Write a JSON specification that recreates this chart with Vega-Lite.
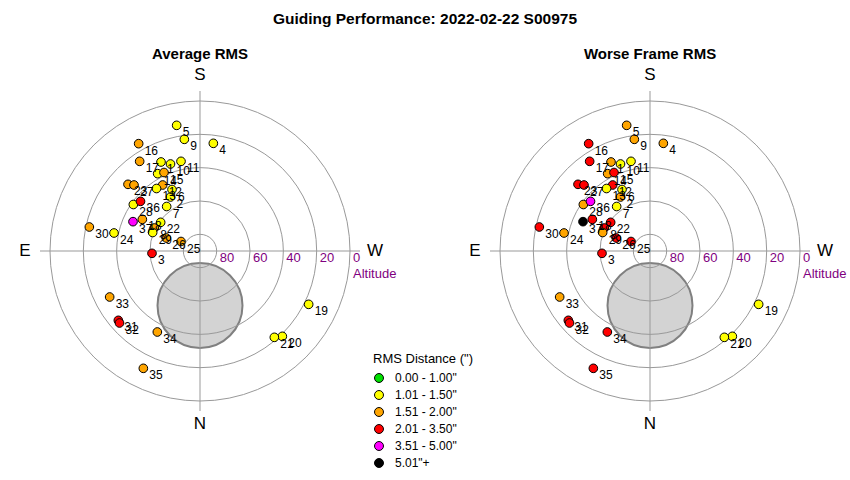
{
  "$schema": "https://vega.github.io/schema/vega-lite/v6.json",
  "padding": {"left": 0, "right": 0, "top": 11, "bottom": 0},
  "config": {"font": "Liberation Sans", "view": {"stroke": null}, "title": {"fontSize": 15, "fontWeight": "bold", "color": "black"}},
  "title": {"text": "Guiding Performance: 2022-02-22 S00975", "anchor": "start", "align": "center", "dx": 425, "fontSize": 15.5, "offset": 20},
  "datasets": {
    "pts": [
      {"label": "1", "x": -23.4, "y": 53.4, "avg": "1.01 - 1.50\"", "worst": "1.51 - 2.00\""},
      {"label": "2", "x": -17.7, "y": 32.4, "avg": "1.01 - 1.50\"", "worst": "1.51 - 2.00\""},
      {"label": "3", "x": -28.8, "y": -1.4, "avg": "2.01 - 3.50\"", "worst": "2.01 - 3.50\""},
      {"label": "4", "x": 8.0, "y": 64.6, "avg": "1.01 - 1.50\"", "worst": "1.51 - 2.00\""},
      {"label": "5", "x": -14.0, "y": 75.4, "avg": "1.01 - 1.50\"", "worst": "1.51 - 2.00\""},
      {"label": "6", "x": -16.8, "y": 36.9, "avg": "1.01 - 1.50\"", "worst": "1.01 - 1.50\""},
      {"label": "7", "x": -20.0, "y": 26.7, "avg": "1.01 - 1.50\"", "worst": "1.01 - 1.50\""},
      {"label": "8", "x": -27.4, "y": 13.8, "avg": "1.51 - 2.00\"", "worst": "2.01 - 3.50\""},
      {"label": "9", "x": -9.4, "y": 67.0, "avg": "1.01 - 1.50\"", "worst": "1.51 - 2.00\""},
      {"label": "10", "x": -17.7, "y": 52.2, "avg": "1.01 - 1.50\"", "worst": "1.01 - 1.50\""},
      {"label": "11", "x": -11.4, "y": 53.8, "avg": "1.01 - 1.50\"", "worst": "1.01 - 1.50\""},
      {"label": "12", "x": -22.4, "y": 39.6, "avg": "1.51 - 2.00\"", "worst": "2.01 - 3.50\""},
      {"label": "13", "x": -26.1, "y": 37.5, "avg": "1.01 - 1.50\"", "worst": "1.01 - 1.50\""},
      {"label": "14", "x": -25.4, "y": 46.4, "avg": "1.01 - 1.50\"", "worst": "1.51 - 2.00\""},
      {"label": "15", "x": -21.6, "y": 47.1, "avg": "1.51 - 2.00\"", "worst": "2.01 - 3.50\""},
      {"label": "16", "x": -36.8, "y": 64.4, "avg": "1.51 - 2.00\"", "worst": "2.01 - 3.50\""},
      {"label": "17", "x": -36.2, "y": 53.8, "avg": "1.51 - 2.00\"", "worst": "2.01 - 3.50\""},
      {"label": "18", "x": -34.6, "y": 19.0, "avg": "1.51 - 2.00\"", "worst": "2.01 - 3.50\""},
      {"label": "19", "x": 65.2, "y": -32.0, "avg": "1.01 - 1.50\"", "worst": "1.01 - 1.50\""},
      {"label": "20", "x": 49.4, "y": -51.2, "avg": "1.01 - 1.50\"", "worst": "1.01 - 1.50\""},
      {"label": "21", "x": 44.6, "y": -51.8, "avg": "1.01 - 1.50\"", "worst": "1.01 - 1.50\""},
      {"label": "22", "x": -23.6, "y": 17.2, "avg": "1.01 - 1.50\"", "worst": "2.01 - 3.50\""},
      {"label": "23", "x": -43.2, "y": 40.0, "avg": "1.51 - 2.00\"", "worst": "2.01 - 3.50\""},
      {"label": "24", "x": -51.6, "y": 10.8, "avg": "1.01 - 1.50\"", "worst": "1.51 - 2.00\""},
      {"label": "25", "x": -11.4, "y": 5.7, "avg": "1.51 - 2.00\"", "worst": "2.01 - 3.50\""},
      {"label": "26", "x": -20.2, "y": 7.8, "avg": "1.51 - 2.00\"", "worst": "2.01 - 3.50\""},
      {"label": "27", "x": -39.6, "y": 39.6, "avg": "1.51 - 2.00\"", "worst": "2.01 - 3.50\""},
      {"label": "28", "x": -40.0, "y": 27.9, "avg": "1.01 - 1.50\"", "worst": "1.51 - 2.00\""},
      {"label": "29", "x": -28.4, "y": 11.1, "avg": "1.01 - 1.50\"", "worst": "1.51 - 2.00\""},
      {"label": "30", "x": -66.4, "y": 14.4, "avg": "1.51 - 2.00\"", "worst": "2.01 - 3.50\""},
      {"label": "31", "x": -49.0, "y": -41.6, "avg": "2.01 - 3.50\"", "worst": "2.01 - 3.50\""},
      {"label": "32", "x": -48.3, "y": -43.2, "avg": "2.01 - 3.50\"", "worst": "2.01 - 3.50\""},
      {"label": "33", "x": -54.2, "y": -27.6, "avg": "1.51 - 2.00\"", "worst": "1.51 - 2.00\""},
      {"label": "34", "x": -25.6, "y": -48.6, "avg": "1.51 - 2.00\"", "worst": "2.01 - 3.50\""},
      {"label": "35", "x": -34.0, "y": -70.4, "avg": "1.51 - 2.00\"", "worst": "2.01 - 3.50\""},
      {"label": "36", "x": -35.7, "y": 29.8, "avg": "2.01 - 3.50\"", "worst": "3.51 - 5.00\""},
      {"label": "37", "x": -40.2, "y": 17.6, "avg": "3.51 - 5.00\"", "worst": "5.01\"+"}
    ],
    "rings": [
      {"x": 0, "y": 0, "zd": 90},
      {"x": 0, "y": 0, "zd": 70},
      {"x": 0, "y": 0, "zd": 50},
      {"x": 0, "y": 0, "zd": 30},
      {"x": 0, "y": 0, "zd": 10}
    ],
    "moon": [{"x": 0, "y": -32.7, "zd": 25.5}],
    "lines": [
      {"x": -96, "x2": 96, "y": 0, "y2": 0},
      {"x": 0, "x2": 0, "y": -96, "y2": 96}
    ],
    "ringlabels": [
      {"x": 10, "y": 0, "t": "80"},
      {"x": 30, "y": 0, "t": "60"},
      {"x": 50, "y": 0, "t": "40"},
      {"x": 70, "y": 0, "t": "20"},
      {"x": 90, "y": 0, "t": "0"},
      {"x": 90, "y": -9.6, "t": "Altitude"}
    ],
    "compass": [
      {"x": 0, "y": 105.6, "t": "S"},
      {"x": 0, "y": -103.8, "t": "N"},
      {"x": -105, "y": 0, "t": "E"},
      {"x": 105, "y": 0, "t": "W"}
    ]
  },
  "spacing": 50,
  "hconcat": [
    {
      "width": 400,
      "height": 415,
      "title": {"text": "Average RMS", "offset": 4},
      "encoding": {
        "x": {"field": "x", "type": "quantitative", "scale": {"domain": [-120, 120], "nice": false, "zero": false}, "axis": null},
        "y": {"field": "y", "type": "quantitative", "scale": {"domain": [-138, 111], "nice": false, "zero": false}, "axis": null}
      },
      "layer": [
        {"data": {"name": "moon"}, "mark": {"type": "point", "shape": "circle", "filled": true, "fill": "#d3d3d3", "stroke": "#808080", "strokeWidth": 2, "opacity": 1},
         "encoding": {"size": {"field": "zd", "type": "quantitative", "scale": {"type": "pow", "exponent": 2, "domain": [0, 90], "range": [0, 90000]}, "legend": null}}},
        {"data": {"name": "rings"}, "mark": {"type": "point", "shape": "circle", "filled": false, "stroke": "#999999", "strokeWidth": 1, "opacity": 1},
         "encoding": {"size": {"field": "zd", "type": "quantitative", "scale": {"type": "pow", "exponent": 2, "domain": [0, 90], "range": [0, 90000]}, "legend": null}}},
        {"data": {"name": "lines"}, "mark": {"type": "rule", "color": "#999999", "strokeWidth": 1},
         "encoding": {"x2": {"field": "x2"}, "y2": {"field": "y2"}}},
        {"data": {"name": "ringlabels"}, "mark": {"type": "text", "align": "left", "baseline": "middle", "dx": 3, "dy": 7, "fontSize": 13, "color": "#800080"},
         "encoding": {"text": {"field": "t"}}},
        {"data": {"name": "compass"}, "mark": {"type": "text", "align": "center", "baseline": "middle", "fontSize": 17, "color": "black"},
         "encoding": {"text": {"field": "t"}}},
        {"data": {"name": "pts"}, "mark": {"type": "point", "shape": "circle", "filled": true, "size": 75, "stroke": "black", "strokeWidth": 1, "opacity": 1},
         "encoding": {"color": {"field": "avg", "type": "nominal", "title": "RMS Distance (\")",
           "scale": {"domain": ["0.00 - 1.00\"", "1.01 - 1.50\"", "1.51 - 2.00\"", "2.01 - 3.50\"", "3.51 - 5.00\"", "5.01\"+"], "range": ["#00e000", "#ffff00", "#ffa500", "#ff0000", "#ff00ff", "#000000"]},
           "legend": {"orient": "none", "legendX": 373, "legendY": 287, "titleFontWeight": "normal", "titleFontSize": 13, "titleColor": "black", "labelColor": "black", "labelFontSize": 12, "symbolSize": 80, "symbolType": "circle", "symbolStrokeColor": "black", "symbolStrokeWidth": 1, "rowPadding": 3, "labelOffset": 10, "titlePadding": 6}}}},
        {"data": {"name": "pts"}, "mark": {"type": "text", "align": "left", "baseline": "middle", "dx": 6, "dy": 7, "fontSize": 12, "color": "black"},
         "encoding": {"text": {"field": "label"}}}
      ]
    },
    {
      "width": 400,
      "height": 415,
      "title": {"text": "Worse Frame RMS", "offset": 4},
      "encoding": {
        "x": {"field": "x", "type": "quantitative", "scale": {"domain": [-120, 120], "nice": false, "zero": false}, "axis": null},
        "y": {"field": "y", "type": "quantitative", "scale": {"domain": [-138, 111], "nice": false, "zero": false}, "axis": null}
      },
      "layer": [
        {"data": {"name": "moon"}, "mark": {"type": "point", "shape": "circle", "filled": true, "fill": "#d3d3d3", "stroke": "#808080", "strokeWidth": 2, "opacity": 1},
         "encoding": {"size": {"field": "zd", "type": "quantitative", "scale": {"type": "pow", "exponent": 2, "domain": [0, 90], "range": [0, 90000]}, "legend": null}}},
        {"data": {"name": "rings"}, "mark": {"type": "point", "shape": "circle", "filled": false, "stroke": "#999999", "strokeWidth": 1, "opacity": 1},
         "encoding": {"size": {"field": "zd", "type": "quantitative", "scale": {"type": "pow", "exponent": 2, "domain": [0, 90], "range": [0, 90000]}, "legend": null}}},
        {"data": {"name": "lines"}, "mark": {"type": "rule", "color": "#999999", "strokeWidth": 1},
         "encoding": {"x2": {"field": "x2"}, "y2": {"field": "y2"}}},
        {"data": {"name": "ringlabels"}, "mark": {"type": "text", "align": "left", "baseline": "middle", "dx": 3, "dy": 7, "fontSize": 13, "color": "#800080"},
         "encoding": {"text": {"field": "t"}}},
        {"data": {"name": "compass"}, "mark": {"type": "text", "align": "center", "baseline": "middle", "fontSize": 17, "color": "black"},
         "encoding": {"text": {"field": "t"}}},
        {"data": {"name": "pts"}, "mark": {"type": "point", "shape": "circle", "filled": true, "size": 75, "stroke": "black", "strokeWidth": 1, "opacity": 1},
         "encoding": {"color": {"field": "worst", "type": "nominal", "title": "RMS Distance (\")",
           "scale": {"domain": ["0.00 - 1.00\"", "1.01 - 1.50\"", "1.51 - 2.00\"", "2.01 - 3.50\"", "3.51 - 5.00\"", "5.01\"+"], "range": ["#00e000", "#ffff00", "#ffa500", "#ff0000", "#ff00ff", "#000000"]},
           "legend": {"orient": "none", "legendX": 373, "legendY": 287, "titleFontWeight": "normal", "titleFontSize": 13, "titleColor": "black", "labelColor": "black", "labelFontSize": 12, "symbolSize": 80, "symbolType": "circle", "symbolStrokeColor": "black", "symbolStrokeWidth": 1, "rowPadding": 3, "labelOffset": 10, "titlePadding": 6}}}},
        {"data": {"name": "pts"}, "mark": {"type": "text", "align": "left", "baseline": "middle", "dx": 6, "dy": 7, "fontSize": 12, "color": "black"},
         "encoding": {"text": {"field": "label"}}}
      ]
    }
  ]
}
